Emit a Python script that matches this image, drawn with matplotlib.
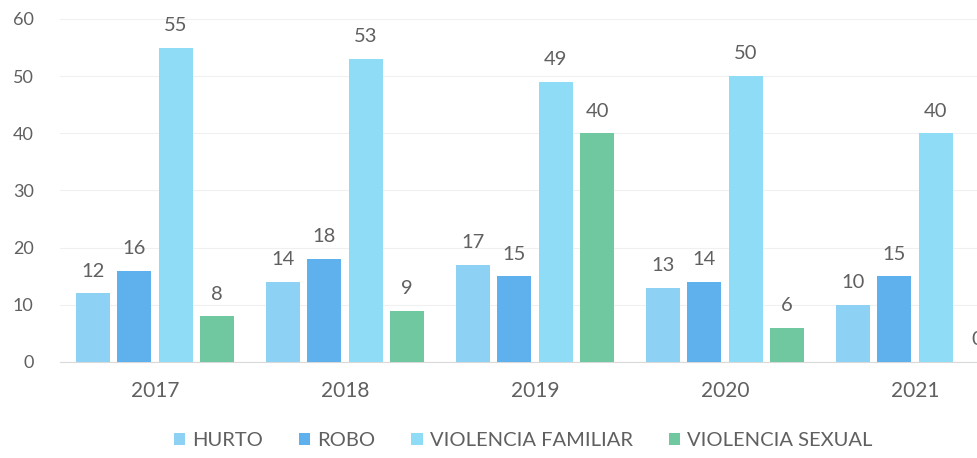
import numpy as np
import matplotlib.pyplot as plt

plt.rcParams["font.family"] = ["Lato", "DejaVu Sans"]

years = ["2017", "2018", "2019", "2020", "2021"]
hurto = [12, 14, 17, 13, 10]
robo = [16, 18, 15, 14, 15]
violencia_familiar = [55, 53, 49, 50, 40]
violencia_sexual = [8, 9, 40, 6, 0]

series = [
    ("HURTO", hurto, "#8dd1f4"),
    ("ROBO", robo, "#5fb1ee"),
    ("VIOLENCIA FAMILIAR", violencia_familiar, "#8fdcf6"),
    ("VIOLENCIA SEXUAL", violencia_sexual, "#70c8a0"),
]

text_color = "#606060"

fig = plt.figure(figsize=(9.78, 4.58), dpi=100)
ax = fig.add_axes([60 / 978, 96 / 458, 950 / 978, 343 / 458])

x = np.arange(len(years))
width = 0.18
step = 0.218

for i, (name, vals, color) in enumerate(series):
    pos = x + (i - 1.5) * step
    bars = ax.bar(pos, vals, width, color=color, label=name, zorder=3)
    for b, v in zip(bars, vals):
        ax.text(b.get_x() + b.get_width() / 2, v + 2.4, str(v),
                ha="center", va="bottom", fontsize=14.5, color=text_color,
                clip_on=False)

ax.set_xlim(-0.5, len(years) - 0.5)
ax.set_ylim(0, 60)
ax.set_yticks(range(0, 61, 10))
ax.set_xticks(x)
ax.set_xticklabels(years)
ax.tick_params(axis="both", length=0, labelcolor=text_color)
ax.tick_params(axis="x", pad=14, labelsize=15)
ax.tick_params(axis="y", pad=19, labelsize=13)
ax.grid(axis="y", color="#f0f0f0", linewidth=0.8, zorder=0)
for s in ["top", "right", "left"]:
    ax.spines[s].set_visible(False)
ax.spines["bottom"].set_color("#d9d9d9")

fig.legend(loc="center", bbox_to_anchor=(523 / 978, 17 / 458), ncol=4, frameon=False,
           fontsize=14.5, labelcolor=text_color, handlelength=0.55, handleheight=0.55,
           handletextpad=0.35, columnspacing=1.8)

fig.savefig("out.png", dpi=100)
